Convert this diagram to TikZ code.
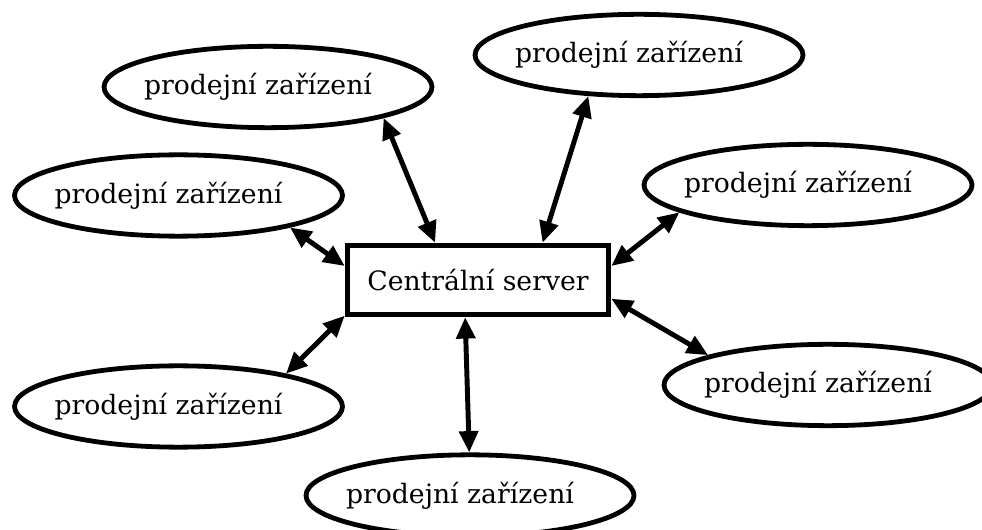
\documentclass[tikz,border=0pt]{standalone}
\usepackage{fontspec}
\setmainfont{DejaVu Serif}
\usetikzlibrary{shapes.geometric,arrows.meta}
\newcommand{\devtext}{\makebox[0pt]{prodejní zařízení\kern15pt}}
\tikzset{
  dev/.style={ellipse, draw, line width=3.6pt, minimum width=246pt, minimum height=61pt, inner sep=0pt, font=\fontsize{20pt}{24pt}\selectfont},
  srv/.style={rectangle, draw, line width=3.9pt, minimum width=196pt, minimum height=52pt, inner sep=0pt, font=\fontsize{20pt}{24pt}\selectfont},
  link/.style={line width=3.7pt, {Triangle[length=16pt,width=14pt]}-{Triangle[length=16pt,width=14pt]}}
}
\begin{document}
\begin{tikzpicture}[x=0.75pt,y=-0.75pt]
\useasboundingbox (0,0) rectangle (982,530);
\node[srv] (r) at (478,280) {Centrální server};
\node[dev] (e1) at (268,87) {\devtext};
\node[dev] (e2) at (639,55) {\devtext};
\node[dev] (e3) at (178.5,195.5) {\devtext};
\node[dev] (e4) at (808,185) {\devtext};
\node[dev] (e5) at (178.5,406.5) {\devtext};
\node[dev] (e6) at (828,385) {\devtext};
\node[dev] (e7) at (470,495.5) {\devtext};
\draw[link] (e1.-15) -- (r.139);
\draw[link] (e2.-141) -- (r.30);
\draw[link] (e3.-16) -- (r.174);
\draw[link] (e4.192) -- (r.6);
\draw[link] (e5.17) -- (r.195);
\draw[link] (e6.166) -- (r.-8);
\draw[link] (e7.91) -- (r.-109);
\end{tikzpicture}
\end{document}
